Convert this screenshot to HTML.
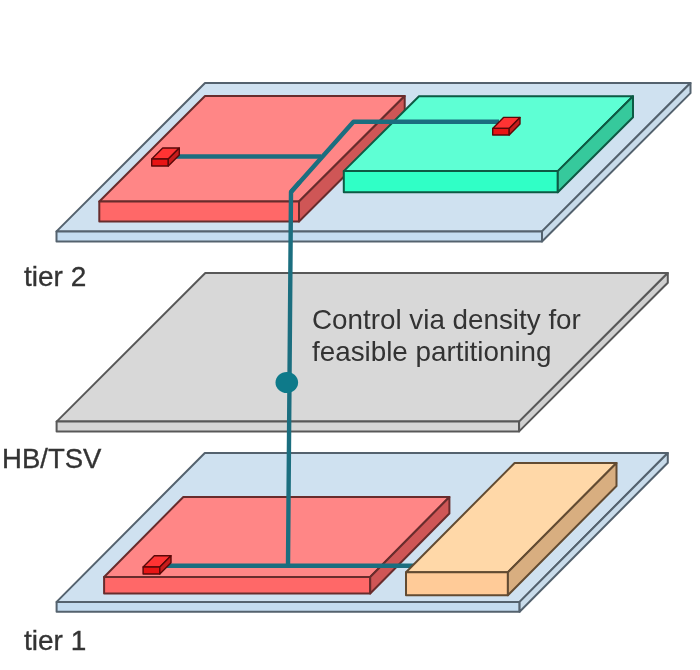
<!DOCTYPE html>
<html>
<head>
<meta charset="utf-8">
<style>
html,body{margin:0;padding:0;background:#fff;}
body{width:700px;height:670px;overflow:hidden;position:relative;}
svg{position:absolute;left:0;top:0;filter:blur(0.6px);}
text{font-family:"Liberation Sans", sans-serif;fill:#333;stroke:#333;stroke-width:0.35px;}
</style>
</head>
<body>
<svg width="700" height="670" viewBox="0 0 700 670">
<rect x="0" y="0" width="700" height="670" fill="#fff"/>
<g stroke-linejoin="round">
<g stroke="#54626e" stroke-width="2"><polygon points="205,83 690.5,83 542,231.4 56.5,231.4" fill="#cfe1f0"/><polygon points="56.5,231.4 542,231.4 542,241.5 56.5,241.5" fill="#c4dcf0"/><polygon points="542,231.4 690.5,83 690.5,93.1 542,241.5" fill="#c8dbea"/></g>
<g stroke="#682c2c" stroke-width="2"><polygon points="205,96 404.7,96 299,201.5 99.3,201.5" fill="#ff8686"/><polygon points="99.3,201.5 299,201.5 299,221.5 99.3,221.5" fill="#ff6868"/><polygon points="299,201.5 404.7,96 404.7,116 299,221.5" fill="#cf5656"/></g>
<g stroke="#0d5a44" stroke-width="2"><polygon points="419,96.2 633,96.2 557.8,171.1 343.8,171.1" fill="#5effd4"/><polygon points="343.8,171.1 557.8,171.1 557.8,192.2 343.8,192.2" fill="#30ffc6"/><polygon points="557.8,171.1 633,96.2 633,117.3 557.8,192.2" fill="#36c99c"/></g>
<path d="M172,156.5 H321" stroke="#1b6e7f" stroke-width="4.4" fill="none"/>
<path d="M499,121.7 H353.5 L291,192" stroke="#1b6e7f" stroke-width="4.4" fill="none" stroke-linejoin="round"/>
<g stroke="#5a0808" stroke-width="1.4"><polygon points="162.7,148 179.3,148 168.3,159 151.7,159" fill="#ff3333"/><polygon points="151.7,159 168.3,159 168.3,166 151.7,166" fill="#e81414"/><polygon points="168.3,159 179.3,148 179.3,155 168.3,166" fill="#c81c1c"/></g>
<g stroke="#5a0808" stroke-width="1.4"><polygon points="503.5,117.4 520,117.4 509.2,128.4 492.7,128.4" fill="#ff3333"/><polygon points="492.7,128.4 509.2,128.4 509.2,135 492.7,135" fill="#e81414"/><polygon points="509.2,128.4 520,117.4 520,124 509.2,135" fill="#c81c1c"/></g>
<g stroke="#585858" stroke-width="2"><polygon points="205.3,273 667.8,273 519.1,421.6 56.6,421.6" fill="#d8d8d8"/><polygon points="56.6,421.6 519.1,421.6 519.1,431.4 56.6,431.4" fill="#d6d6d6"/><polygon points="519.1,421.6 667.8,273 667.8,282.8 519.1,431.4" fill="#d0d0d0"/></g>
<g stroke="#54626e" stroke-width="2"><polygon points="204.8,453 667.8,453 519.6,601.9 56.6,601.9" fill="#cfe1f0"/><polygon points="56.6,601.9 519.6,601.9 519.6,611.7 56.6,611.7" fill="#c4dcf0"/><polygon points="519.6,601.9 667.8,453 667.8,462.8 519.6,611.7" fill="#c8dbea"/></g>
<g stroke="#682c2c" stroke-width="2"><polygon points="183.3,497 449.4,497 370.2,577 104.1,577" fill="#ff8686"/><polygon points="104.1,577 370.2,577 370.2,593.5 104.1,593.5" fill="#ff6868"/><polygon points="370.2,577 449.4,497 449.4,513.5 370.2,593.5" fill="#cf5656"/></g>
<path d="M163,565.7 H415" stroke="#1b6e7f" stroke-width="4.4" fill="none"/>
<g stroke="#5a0808" stroke-width="1.4"><polygon points="154.3,555.8 171,555.8 159.8,567 143.1,567" fill="#ff3333"/><polygon points="143.1,567 159.8,567 159.8,574 143.1,574" fill="#e81414"/><polygon points="159.8,567 171,555.8 171,562.8 159.8,574" fill="#c81c1c"/></g>
<g stroke="#624b32" stroke-width="2"><polygon points="514.6,463 616.5,463 507.9,572.2 406,572.2" fill="#ffd8a8"/><polygon points="406,572.2 507.9,572.2 507.9,595.2 406,595.2" fill="#ffcb98"/><polygon points="507.9,572.2 616.5,463 616.5,486 507.9,595.2" fill="#d8ae80"/></g>
<path d="M299.8,181.9 L291,192 L288,565.7" stroke="#1b6e7f" stroke-width="4.4" fill="none" stroke-linejoin="round"/>
<ellipse cx="286.8" cy="382.5" rx="11.3" ry="10.6" fill="#0e7a8a"/>
</g>
<text x="24" y="286" font-size="28">tier 2</text>
<text x="2.1" y="467.8" font-size="27.5">HB/TSV</text>
<text x="24" y="650.3" font-size="28">tier 1</text>
<text x="312" y="329" font-size="27.8" style="stroke-width:0">Control via density for</text>
<text x="312" y="361" font-size="27.8" style="stroke-width:0">feasible partitioning</text>
</svg>
</body>
</html>
